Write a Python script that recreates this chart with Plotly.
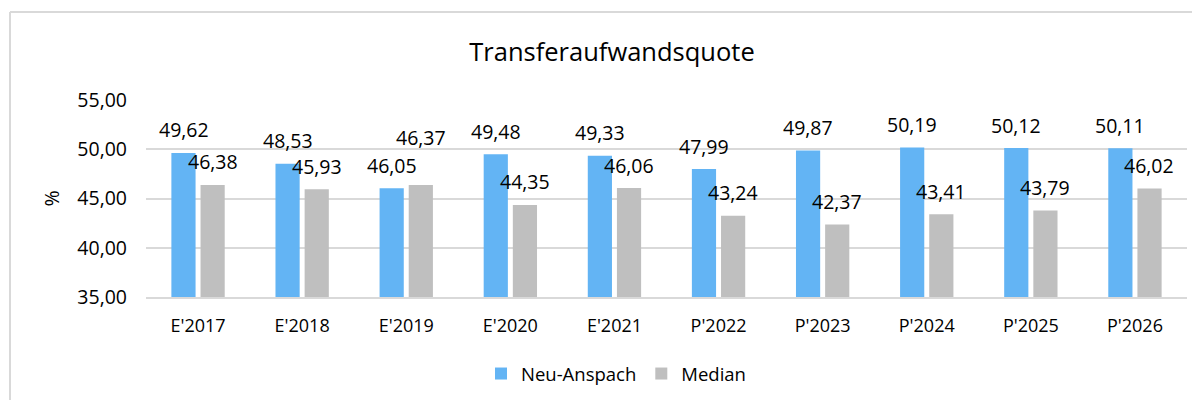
import plotly.graph_objects as go

categories = ["E'2017", "E'2018", "E'2019", "E'2020", "E'2021",
              "P'2022", "P'2023", "P'2024", "P'2025", "P'2026"]
neu_anspach = [49.62, 48.53, 46.05, 49.48, 49.33, 47.99, 49.87, 50.19, 50.12, 50.11]
median = [46.38, 45.93, 46.37, 44.35, 46.06, 43.24, 42.37, 43.41, 43.79, 46.02]
y_ticks = [35, 40, 45, 50, 55]

BLUE = "#63b4f4"
GREY = "#bfbfbf"
FONT = "Open Sans"
FS = 19.5
OFF = 8  # page body margin of the browser
W, H = 1200 - OFF, 400 - OFF


def de(v):
    return f"{v:.2f}".replace(".", ",")


fig = go.Figure()
fig.add_trace(go.Bar(name="Neu-Anspach", x=categories, y=neu_anspach,
                     marker=dict(color=BLUE, line=dict(width=0))))
fig.add_trace(go.Bar(name="Median", x=categories, y=median,
                     marker=dict(color=GREY, line=dict(width=0))))

annotations = []
for i, c in enumerate(categories):
    a, m = neu_anspach[i], median[i]
    annotations.append(dict(x=c, y=a, text=de(a), showarrow=False, xshift=-14.5,
                            yshift=23, font=dict(family=FONT, size=FS, color="#000"),
                            xanchor="center", yanchor="middle"))
    # the label of the median is lifted when it would collide with the other one
    shift_m = 48 if abs(a - m) < 1 else 23
    annotations.append(dict(x=c, y=m, text=de(m), showarrow=False, xshift=14.5,
                            yshift=shift_m, font=dict(family=FONT, size=FS, color="#000"),
                            xanchor="center", yanchor="middle"))

L, R, T, B = 146 - OFF, 1187 - OFF, 100 - OFF, 297 - OFF
bx0 = (10 - 146) / 1041
by1 = 1 + (100 - 12) / 197
border = dict(color="#d9d9d9", width=2)
fig.update_layout(
    width=W, height=H,
    margin=dict(l=L, r=W - R, t=T, b=H - B, autoexpand=False),
    paper_bgcolor="white", plot_bgcolor="white",
    font=dict(family=FONT, size=FS, color="#000"),
    barmode="group", bargap=0.44, bargroupgap=0.17,
    title=dict(text="Transferaufwandsquote", x=(612 - OFF) / W, xref="container",
               xanchor="center", y=1 - (52 - OFF) / H, yref="container", yanchor="middle",
               font=dict(family=FONT, size=25.5, color="#000")),
    legend=dict(orientation="h", x=(616 - OFF) / W, xref="container", xanchor="center",
                y=1 - (374 - OFF) / H, yref="container", yanchor="middle",
                font=dict(family=FONT, size=18.5, color="#000"), itemwidth=30,
                traceorder="normal"),
    annotations=annotations,
    shapes=[
        dict(type="line", xref="paper", yref="paper", x0=bx0, x1=1.05, y0=by1, y1=by1,
             line=border, layer="below"),
        dict(type="line", xref="paper", yref="paper", x0=bx0, x1=bx0, y0=-0.6, y1=by1,
             line=border, layer="below"),
    ],
)
fig.update_yaxes(range=[35, 55], tickvals=y_ticks, ticktext=[de(v) for v in y_ticks],
                 showgrid=True, gridcolor="#d9d9d9", gridwidth=1.5, zeroline=False,
                 showline=False, ticks="", ticklabelstandoff=18,
                 title=dict(text="%", standoff=12, font=dict(family=FONT, size=FS)),
                 tickfont=dict(family=FONT, size=FS))
fig.update_xaxes(showline=True, linecolor="#d9d9d9", linewidth=1.5, ticks="",
                 ticklabelstandoff=12, tickfont=dict(family=FONT, size=18))

fig.write_html("out.html")
